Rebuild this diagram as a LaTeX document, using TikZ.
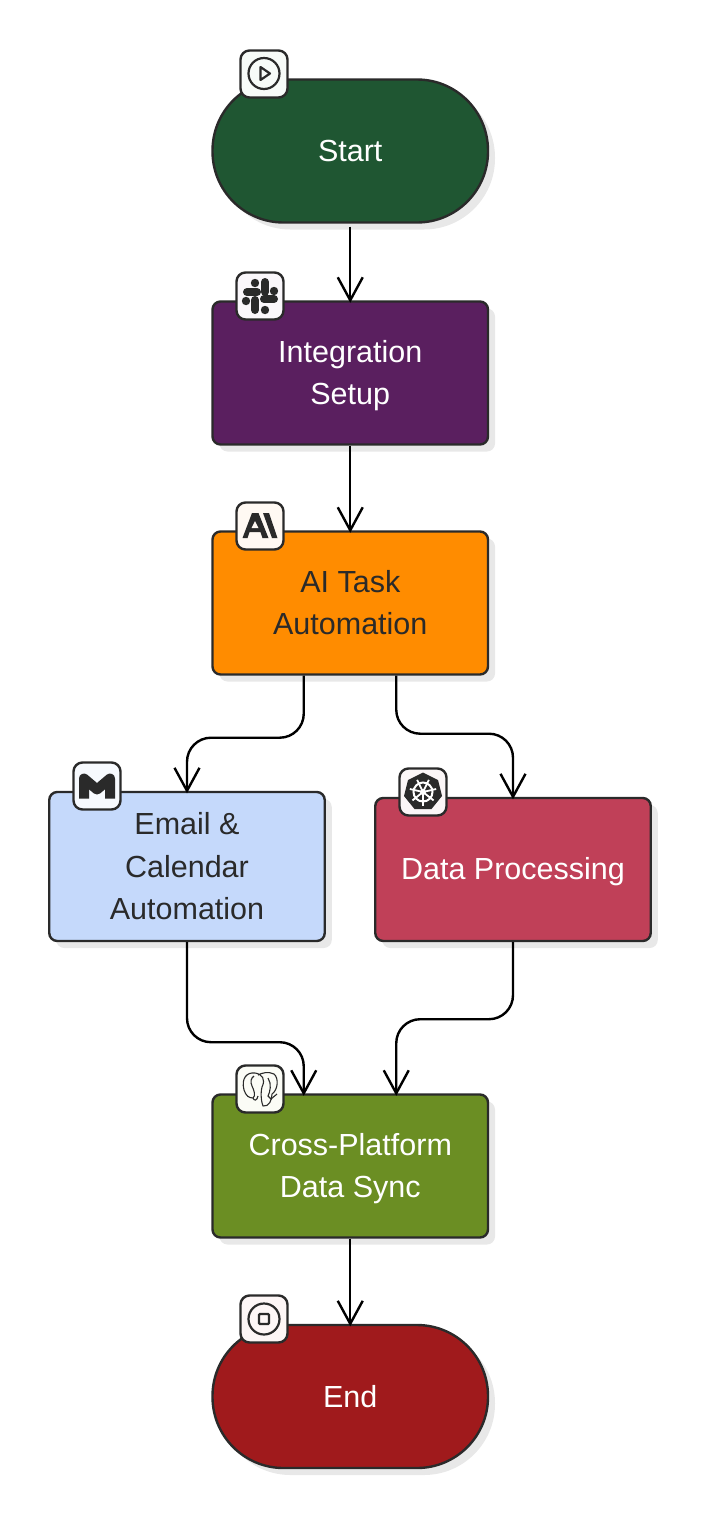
\documentclass[tikz,border=0pt]{standalone}
\usepackage{fontspec}
\setmainfont{Liberation Sans}
\usetikzlibrary{arrows.meta,shadows}
\definecolor{inkdark}{HTML}{2A2A2A}
\definecolor{shadowgray}{HTML}{E8E8E8}
\definecolor{taskpaper}{RGB}{255,249,243}
\newcommand{\lowerline}{\rule{0pt}{33.75pt}}
\tikzset{
  block/.style={draw=inkdark, line width=2.4pt, rounded corners=8pt, minimum width=275.5pt, minimum height=143pt,
    align=center, inner sep=0pt, font=\fontsize{30.5}{42.5}\selectfont,
    drop shadow={shadow xshift=7pt, shadow yshift=-7pt, fill=shadowgray, opacity=1}},
  terminal/.style={block, rounded corners=71pt},
  badge/.style={draw=inkdark, line width=2.4pt, rounded corners=9pt, minimum size=47pt, inner sep=0pt},
  link/.style={draw=black, line width=2.4pt, rounded corners=24pt, shorten >=-2.5pt,
    -{Straight Barb[length=23pt,width=25pt,line width=2.4pt]}},
  glyph/.style={draw=inkdark, line width=2.2pt},
  solidglyph/.style={fill=inkdark, draw=none}
}
\begin{document}
\begin{tikzpicture}[x=1pt, y=-1pt]
    \useasboundingbox (0, 0) rectangle (702, 1519);
    % flow nodes
    \node [terminal, fill={rgb,255:red,31;green,86;blue,50}, text=white] (start) at (350.25, 151) {Start};
    \node [block, fill={rgb,255:red,90;green,31;blue,95}, text=white] (setup) at (350.25, 373) {\lowerline Integration\\\strut Setup};
    \node [block, fill={rgb,255:red,255;green,140;blue,0}, text=inkdark] (task) at (350.25, 603) {\lowerline AI Task\\\strut Automation};
    \node [block, minimum height=149pt, fill={rgb,255:red,197;green,217;blue,251}, text=inkdark] (mail) at (187, 866.5) {\lowerline Email \&\\\strut Calendar\\\strut Automation};
    \node [block, fill={rgb,255:red,192;green,64;blue,88}, text=white] (data) at (513, 869.5) {\strut\rule{0pt}{31.75pt}Data Processing};
    \node [block, fill={rgb,255:red,107;green,142;blue,35}, text=white] (sync) at (350.25, 1166) {\lowerline Cross-Platform\\\strut Data Sync};
    \node [terminal, fill={rgb,255:red,160;green,26;blue,28}, text=white] (end) at (350.25, 1396.5) {End};
    % connectors
    \draw [link] ([yshift=-3pt]start.south) -- (setup.north);
    \draw [link] (setup.south) -- (task.north);
    \draw [link] ([xshift=-46.5pt]task.south) -- ++(0, 62) -| (mail.north);
    \draw [link] ([xshift=46pt]task.south) -- ++(0, 58) -| (data.north);
    \draw [link] (mail.south) -- ++(0, 100) -| ([xshift=-46.5pt]sync.north);
    \draw [link] (data.south) -- ++(0, 77) -| ([xshift=46pt]sync.north);
    \draw [link] (sync.south) -- (end.north);
    % icon badges
    \node [badge, fill={rgb,255:red,247;green,251;blue,248}] (startbadge) at (264, 74) {};
    \node [badge, fill={rgb,255:red,250;green,247;blue,251}] (setupbadge) at (260, 296) {};
    \node [badge, fill=taskpaper] (taskbadge) at (260, 526) {};
    \node [badge, fill={rgb,255:red,247;green,250;blue,254}] (mailbadge) at (97, 786) {};
    \node [badge, fill={rgb,255:red,251;green,246;blue,247}] (databadge) at (423, 792) {};
    \node [badge, fill={rgb,255:red,251;green,252;blue,246}] (syncbadge) at (260, 1089) {};
    \node [badge, fill={rgb,255:red,253;green,246;blue,246}] (endbadge) at (264, 1319) {};
    % play icon
    \draw [glyph] (264, 73.5) circle (15.5);
    \draw [glyph, line join=round] (260.5, 67) -- (270, 73.5) -- (260.5, 80) -- cycle;
    % slack icon
    \draw [inkdark, line width=8pt, line cap=round] (247, 292) -- (257, 292);
    \draw [inkdark, line width=8pt, line cap=round] (264, 299) -- (274, 299);
    \draw [inkdark, line width=8pt, line cap=round] (265, 282) -- (265, 292);
    \draw [inkdark, line width=8pt, line cap=round] (255, 300) -- (255, 310);
    \fill [inkdark] (255, 283) circle (4.2);
    \fill [inkdark] (274, 291) circle (4.2);
    \fill [inkdark] (246, 301) circle (4.2);
    \fill [inkdark] (265, 310) circle (4.2);
    % anthropic icon
    \fill [solidglyph] (252, 513) -- (258.5, 513) -- (268.5, 538) -- (262.5, 538) -- (260.5, 532) -- (249.5, 532) -- (247.5, 538) -- (242.5, 538) -- cycle;
    \fill [taskpaper] (255, 521) -- (258.5, 528) -- (251.5, 528) -- cycle;
    \fill [solidglyph] (263, 513) -- (269, 513) -- (277.5, 538) -- (272, 538) -- cycle;
    % gmail icon
    \draw [inkdark, line width=10pt, line join=round] (84, 798.5) -- (84, 778.5) -- (97, 789.5) -- (110, 778.5) -- (110, 798.5);
    % kubernetes icon
    \fill [solidglyph] (423, 772.5) -- (438, 780) -- (442, 796) -- (431.5, 809) -- (414.5, 809) -- (404, 796) -- (408, 780) -- cycle;
    \draw [white, line width=2pt] (423, 792) circle (9.5);
    \foreach \ang in {90, 141.4, 192.9, 244.3, 295.7, 347.1, 38.6} {
      \draw [white, line width=1.8pt] (423, 792) -- ++({\ang}:13.5);
    }
    \fill [white] (423, 792) circle (3);
    % postgres icon
    \draw [inkdark, line width=1.1pt, line join=round] (244, 1090) .. controls (241, 1078) and (247, 1072) .. (255, 1073)
      .. controls (262, 1074) and (266, 1079) .. (262, 1087) .. controls (260, 1095) and (262, 1104) .. (263, 1106)
      .. controls (269, 1107) and (272, 1100) .. (272, 1094) .. controls (278, 1090) and (279, 1078) .. (274, 1074)
      .. controls (268, 1071) and (262, 1073) .. (258, 1075);
    \draw [inkdark, line width=1.1pt, line join=round] (244, 1090) .. controls (246, 1096) and (249, 1098) .. (253, 1098)
      .. controls (256, 1096) and (254, 1090) .. (252, 1086) .. controls (250, 1082) and (251, 1078) .. (254, 1076);
    \draw [inkdark, line width=1.1pt] (253, 1098) .. controls (254, 1101) and (257, 1101) .. (258, 1096);
    \draw [inkdark, line width=1.1pt] (268, 1078) .. controls (272, 1084) and (270, 1092) .. (268, 1096) -- (271, 1099) -- (277, 1094);
    % stop icon
    \draw [glyph] (264, 1319) circle (15.5);
    \draw [glyph, rounded corners=1pt] (259, 1314) rectangle (269, 1324);
\end{tikzpicture}
\end{document}
